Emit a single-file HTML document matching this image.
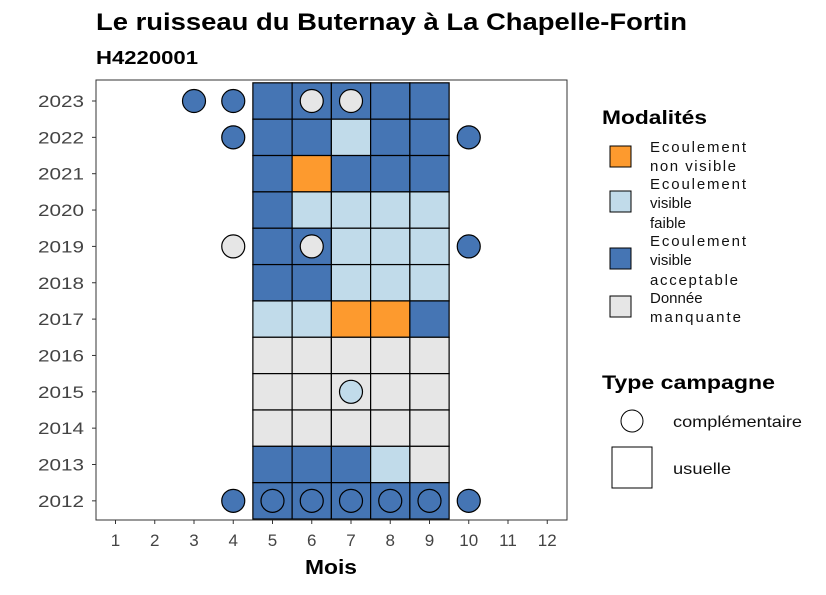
<!DOCTYPE html>
<html><head><meta charset="utf-8"><style>
body{margin:0;background:#fff;font-family:"Liberation Sans",sans-serif}
</style></head><body>
<svg id="c" width="826" height="590" xmlns="http://www.w3.org/2000/svg" font-family="Liberation Sans, sans-serif">
<text x="96" y="30" font-size="24" font-weight="bold" textLength="591" lengthAdjust="spacingAndGlyphs">Le ruisseau du Buternay à La Chapelle-Fortin</text>
<text x="96" y="64" font-size="18" font-weight="bold" textLength="102" lengthAdjust="spacingAndGlyphs">H4220001</text>
<g id="plot"></g>
<rect x="96" y="80" width="471" height="440" fill="none" stroke="#333" stroke-width="1"/>
<text x="331" y="574" font-size="20" font-weight="bold" text-anchor="middle" textLength="52" lengthAdjust="spacingAndGlyphs">Mois</text>
<g font-size="15" fill="#111">
<text x="602" y="124" font-size="19" font-weight="bold" fill="#000" textLength="105" lengthAdjust="spacingAndGlyphs">Modalités</text>
<rect x="610" y="146" width="21" height="21" fill="#fd9a2e" stroke="#000"/>
<text><tspan x="650" y="152" textLength="96">Ecoulement</tspan><tspan x="650" y="171" textLength="86">non visible</tspan></text>
<rect x="610" y="191" width="21" height="21" fill="#c1dbea" stroke="#000"/>
<text><tspan x="650" y="189" textLength="96">Ecoulement</tspan><tspan x="650" y="208">visible</tspan><tspan x="650" y="228">faible</tspan></text>
<rect x="610" y="248" width="21" height="21" fill="#4575b4" stroke="#000"/>
<text><tspan x="650" y="246" textLength="96">Ecoulement</tspan><tspan x="650" y="265">visible</tspan><tspan x="650" y="285" textLength="88">acceptable</tspan></text>
<rect x="610" y="296" width="21" height="21" fill="#e6e6e6" stroke="#000"/>
<text><tspan x="650" y="303">Donnée</tspan><tspan x="650" y="322" textLength="91">manquante</tspan></text>
</g>
<g>
<text x="602" y="389" font-size="19" font-weight="bold" textLength="173" lengthAdjust="spacingAndGlyphs">Type campagne</text>
<circle cx="632" cy="421" r="11" fill="#fff" stroke="#000"/>
<text x="673" y="427" font-size="16" fill="#111" textLength="129" lengthAdjust="spacingAndGlyphs">complémentaire</text>
<rect x="612" y="447" width="40" height="41" fill="#fff" stroke="#000"/>
<text x="673" y="474" font-size="16" fill="#111" textLength="58" lengthAdjust="spacingAndGlyphs">usuelle</text>
</g>
</svg>
<script>
const years=[2023,2022,2021,2020,2019,2018,2017,2016,2015,2014,2013,2012];
const months=[1,2,3,4,5,6,7,8,9,10,11,12];
const tileMonths=[5,6,7,8,9];
// codes: B=acceptable, L=faible, O=non visible, G=manquante
const tileValues=[
"BBBBB","BBLBB","BOBBB","BLLLL","BBLLL","BBLLL","LLOOB","GGGGG","GGGGG","GGGGG","BBBLG","BBBBB"];
const circleYears=[2023,2023,2023,2023,2022,2022,2019,2019,2019,2015,2012,2012,2012,2012,2012,2012,2012];
const circleMonths=[3,4,6,7,4,10,4,6,10,7,4,5,6,7,8,9,10];
const circleValues=["B","B","G","G","B","B","G","G","B","L","B","B","B","B","B","B","B"];
const colors={B:"#4575b4",L:"#c1dbea",O:"#fd9a2e",G:"#e6e6e6"};
const NS="http://www.w3.org/2000/svg";
const g=document.getElementById('plot');
const dx=39.25, dy=36.35;
function xs(m){return 115.5+(m-1)*dx;}
function ys(y){return 101+(2023-y)*dy;}
function mk(t,a){const e=document.createElementNS(NS,t);for(const k in a)e.setAttribute(k,a[k]);g.appendChild(e);return e;}
years.forEach((y,i)=>{
 tileMonths.forEach((m,j)=>{
  const r=mk('rect',{x:xs(m)-dx/2,y:ys(y)-dy/2,width:dx,height:dy,fill:colors[tileValues[i][j]],stroke:'#000','stroke-width':1.2});
  
  
 });
});
circleYears.forEach((y,i)=>{
 const c=mk('circle',{cx:xs(circleMonths[i]),cy:ys(y),r:11.5,fill:colors[circleValues[i]],stroke:'#000','stroke-width':1.2});
 
 
});
years.forEach(y=>{
 mk('line',{x1:92,x2:96,y1:ys(y),y2:ys(y),stroke:'#333'});
 const t=mk('text',{x:84,y:ys(y)+6,'font-size':17,fill:'#444','text-anchor':'end',textLength:46,lengthAdjust:'spacingAndGlyphs'});
 t.textContent=y;
 
 
});
months.forEach(m=>{
 mk('line',{x1:xs(m),x2:xs(m),y1:520,y2:524,stroke:'#333'});
 const t=mk('text',{x:xs(m),y:546,'font-size':17,fill:'#444','text-anchor':'middle'});
 t.textContent=m;
 
 
});
</script>
</body></html>
